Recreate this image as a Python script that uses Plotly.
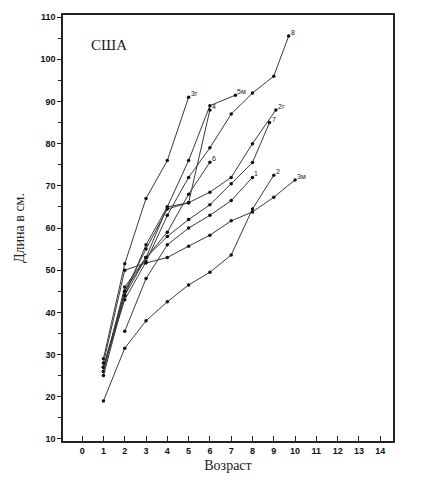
import plotly.graph_objects as go

# Series: (label, ages, lengths in cm)
labels = ["3г", "5м", "4", "8", "2г", "7", "6", "1", "2", "3м"]
ages_3g = [1, 2, 3, 4, 5]
len_3g = [29, 51.5, 67, 76, 91]
ages_5m = [1, 2, 3, 4, 5, 6, 7.2]
len_5m = [27, 44, 56, 65, 76, 89, 91.5]
ages_4 = [1, 2, 3, 4, 5, 6]
len_4 = [26, 46, 53, 65, 66, 88]
ages_8 = [1, 2, 3, 4, 5, 6, 7, 8, 9, 9.7]
len_8 = [27, 43, 52, 63, 72, 79, 87, 92, 96, 105.5]
ages_2g = [1, 2, 3, 4, 5, 6, 7, 8, 9.1]
len_2g = [27, 45, 55, 64.5, 66, 68.5, 72, 80, 88]
ages_7 = [1, 2, 3, 4, 5, 6, 7, 8, 8.8]
len_7 = [26, 45, 53, 58, 62, 65.5, 70.5, 75.5, 85]
ages_6 = [1, 2, 3, 4, 5, 6]
len_6 = [25, 44, 53, 59, 68, 75.6]
ages_1 = [2, 3, 4, 5, 6, 7, 8]
len_1 = [35.5, 48, 56, 60, 63, 66.5, 72]
ages_2 = [1, 2, 3, 4, 5, 6, 7, 8, 9]
len_2 = [19, 31.5, 38, 42.5, 46.5, 49.5, 53.6, 64.5, 72.5]
ages_3m = [1, 2, 3, 4, 5, 6, 7, 8, 9, 10]
len_3m = [28, 50, 51.7, 53, 55.7, 58.3, 61.7, 63.8, 67.3, 71.4]

series = [
    ("3г", ages_3g, len_3g),
    ("5м", ages_5m, len_5m),
    ("4", ages_4, len_4),
    ("8", ages_8, len_8),
    ("2г", ages_2g, len_2g),
    ("7", ages_7, len_7),
    ("6", ages_6, len_6),
    ("1", ages_1, len_1),
    ("2", ages_2, len_2),
    ("3м", ages_3m, len_3m),
]

x_ticks = list(range(0, 15))
y_ticks = list(range(10, 111, 10))

fig = go.Figure()
for name, xs, ys in series:
    fig.add_trace(go.Scatter(
        x=xs, y=ys, mode="lines+markers", name=name,
        line=dict(color="#3a3a3a", width=1),
        marker=dict(color="#111111", size=3.5),
        showlegend=False,
    ))
    fig.add_annotation(
        x=xs[-1], y=ys[-1], text=name, showarrow=False,
        xanchor="left", yanchor="bottom", xshift=0, yshift=-2,
        font=dict(family="Liberation Sans", size=7, color="#222222"),
    )

fig.add_annotation(
    x=0.08, y=0.93, xref="paper", yref="paper", text="США", showarrow=False,
    xanchor="left", yanchor="middle",
    font=dict(family="Liberation Serif", size=15, color="#222222"),
)

fig.update_layout(
    width=424, height=482,
    margin=dict(l=63, r=31, t=15, b=41),
    paper_bgcolor="white", plot_bgcolor="white",
    font=dict(family="Liberation Sans", color="#111111"),
)
fig.update_xaxes(
    range=[-0.9, 14.6], tickvals=x_ticks, ticktext=[str(v) for v in x_ticks],
    ticks="inside", ticklen=5, tickcolor="#222222",
    showline=True, linecolor="#222222", linewidth=1.5, mirror=True,
    showgrid=False, zeroline=False,
    tickfont=dict(family="Liberation Sans", size=9, color="#111111", weight="bold"),
    title=dict(text="Возраст", font=dict(family="Liberation Serif", size=14, color="#222222"), standoff=6),
)
fig.update_yaxes(
    range=[9.5, 110.5], tickvals=y_ticks, ticktext=[str(v) for v in y_ticks],
    ticks="outside", ticklen=4, tickcolor="#222222",
    minor=dict(tickvals=list(range(15, 110, 10)), ticks="outside", ticklen=3, tickcolor="#222222"),
    showline=True, linecolor="#222222", linewidth=1.5, mirror=True,
    showgrid=False, zeroline=False,
    tickfont=dict(family="Liberation Sans", size=9, color="#111111", weight="bold"),
    title=dict(text="Длина в см.", font=dict(family="Liberation Serif", size=14, color="#222222"), standoff=13),
)

fig.write_html("out.html")
